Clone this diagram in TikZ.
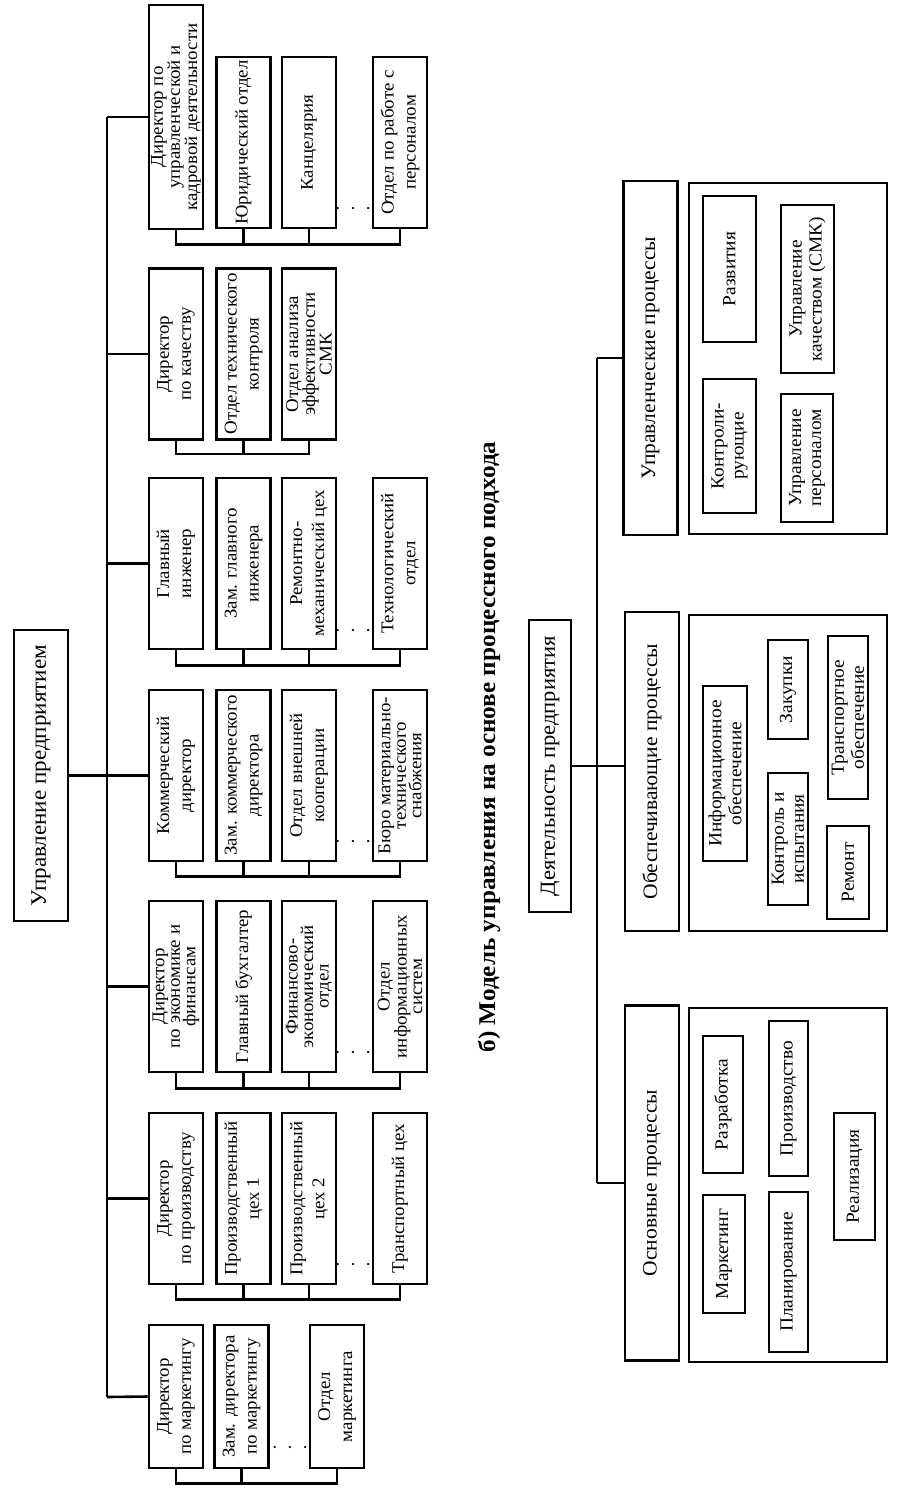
\documentclass[tikz,border=0pt]{standalone}
\usepackage{fontspec}
\setmainfont{Liberation Serif}[FakeStretch=1.05]
\usetikzlibrary{calc}

\begin{document}
\begin{tikzpicture}[
          x=1pt, y=-1pt, line width=2.6pt,
          unit/.style={draw, rotate=90, align=center, inner sep=1pt, minimum width=171pt, minimum height=54pt, font=\fontsize{18}{22}\selectfont},
          tight/.style={font=\fontsize{18}{15.5}\selectfont},
          proc/.style={draw, rotate=90, align=center, inner sep=1pt, minimum height=54pt, font=\fontsize{20.5}{22}\selectfont},
          item/.style={draw, rotate=90, align=center, inner sep=1pt, minimum height=40pt, font=\fontsize{18.5}{20}\selectfont},
          dots/.style={inner sep=0pt, font=\fontsize{18}{18}\selectfont},
          ]
          \useasboundingbox (0,0) rectangle (907,1489);

          % a) org chart
          \node[unit, minimum width=291pt, font=\fontsize{22}{22}\selectfont] (upr) at (41,775.5) {Управление предприятием};
          \coordinate (stemT) at (107,117);
          \coordinate (stemB) at (107,1397);

          \node[unit, tight, minimum width=224pt] (dupr) at (176,117) {Директор по\\управленческой и\\кадровой деятельности};
          \node[unit] (jur) at (243.5,142.5) {Юридический отдел};
          \node[unit] (kanc) at (309,142.5) {Канцелярия};
          \node[unit] (kadr) at (400,142.5) {Отдел по работе с\\персоналом};
          \node[dots] (dots1) at (353,211) {\textperiodcentered\kern9pt\textperiodcentered\kern9pt\textperiodcentered};

          \node[unit] (dkach) at (176,354) {Директор\\по качеству};
          \node[unit] (otk) at (243.5,354) {Отдел технического\\контроля};
          \node[unit, tight] (smk) at (309,354) {Отдел анализа\\эффективности\\СМК};

          \node[unit] (gi) at (176,563.5) {Главный\\инженер};
          \node[unit] (zgi) at (243.5,563.5) {Зам. главного\\инженера};
          \node[unit] (rmc) at (309,563.5) {Ремонтно-\\механический цех};
          \node[unit] (tech) at (400,563.5) {Технологический\\отдел};
          \node[dots] (dots3) at (353,633) {\textperiodcentered\kern9pt\textperiodcentered\kern9pt\textperiodcentered};

          \node[unit] (kd) at (176,775.5) {Коммерческий\\директор};
          \node[unit] (zkd) at (243.5,775.5) {Зам. коммерческого\\директора};
          \node[unit] (vk) at (309,775.5) {Отдел внешней\\кооперации};
          \node[unit, tight] (mts) at (400,775.5) {Бюро материально-\\технического\\снабжения};
          \node[dots] (dots4) at (353,844) {\textperiodcentered\kern9pt\textperiodcentered\kern9pt\textperiodcentered};

          \node[unit, tight] (dfin) at (176,986.5) {Директор\\по экономике и\\финансам};
          \node[unit] (buh) at (243.5,986.5) {Главный бухгалтер};
          \node[unit, tight] (fin) at (309,986.5) {Финансово-\\экономический\\отдел};
          \node[unit, tight] (inf) at (400,986.5) {Отдел\\информационных\\систем};
          \node[dots] (dots5) at (353,1055) {\textperiodcentered\kern9pt\textperiodcentered\kern9pt\textperiodcentered};

          \node[unit] (dpr) at (176,1198.5) {Директор\\по производству};
          \node[unit] (pc1) at (243.5,1198.5) {Производственный\\цех 1};
          \node[unit] (pc2) at (309,1198.5) {Производственный\\цех 2};
          \node[unit] (trc) at (400,1198.5) {Транспортный цех};
          \node[dots] (dots6) at (353,1267) {\textperiodcentered\kern9pt\textperiodcentered\kern9pt\textperiodcentered};

          \node[unit, minimum width=143pt] (dmk) at (176,1396.5) {Директор\\по маркетингу};
          \node[unit, minimum width=143pt] (zmk) at (241.5,1396.5) {Зам. директора\\по маркетингу};
          \node[unit, minimum width=143pt] (omk) at (337,1396.5) {Отдел\\маркетинга};
          \node[dots] (dots7) at (290,1450) {\textperiodcentered\kern9pt\textperiodcentered\kern9pt\textperiodcentered};

          \draw (stemT) -- (stemB);
          \draw (upr.south) -- (upr.south -| stemT);
          \draw (dupr.north) -- (stemT);
          \draw (dkach.north) -- (dkach.north -| stemT);
          \draw (gi.north) -- (gi.north -| stemT);
          \draw (kd.north) -- (kd.north -| stemT);
          \draw (dfin.north) -- (dfin.north -| stemT);
          \draw (dpr.north) -- (dpr.north -| stemT);
          \draw (dmk.north) -- (stemB);

          \draw (dupr.west) -- ++(0,14) -| (kadr.west);
          \draw (jur.west) -- ++(0,15);
          \draw (kanc.west) -- ++(0,15);
          \draw (dkach.west) -- ++(0,13) -| (smk.west);
          \draw (otk.west) -- ++(0,13);
          \draw (gi.west) -- ++(0,15) -| (tech.west);
          \draw (zgi.west) -- ++(0,15);
          \draw (rmc.west) -- ++(0,15);
          \draw (kd.west) -- ++(0,14) -| (mts.west);
          \draw (zkd.west) -- ++(0,14);
          \draw (vk.west) -- ++(0,14);
          \draw (dfin.west) -- ++(0,15) -| (inf.west);
          \draw (buh.west) -- ++(0,15);
          \draw (fin.west) -- ++(0,15);
          \draw (dpr.west) -- ++(0,14) -| (trc.west);
          \draw (pc1.west) -- ++(0,14);
          \draw (pc2.west) -- ++(0,14);
          \draw (dmk.west) -- ++(0,14) -| (omk.west);
          \draw (zmk.west) -- ++(0,14);

          % b) process model
          \node[rotate=90, font=\bfseries\fontsize{24}{26}\selectfont] (title) at (489,747) {б) Модель управления на основе процессного подхода};

          \node[proc, minimum width=292pt, minimum height=42pt, line width=1.6pt, font=\fontsize{21.5}{22}\selectfont] (dp) at (550,766) {Деятельность предприятия};
          \coordinate (rT) at (597,358);
          \coordinate (rB) at (597,1183);

          \node[proc, minimum width=354pt] (upp) at (650.5,358) {Управленческие процессы};
          \node[proc, minimum width=319pt] (obp) at (652,771.5) {Обеспечивающие процессы};
          \node[proc, minimum width=355pt] (osp) at (652,1183) {Основные процессы};

          \draw (rT) -- (rB);
          \draw (upp.north) -- (rT);
          \draw (osp.north) -- (rB);
          \draw[line width=1.6pt] (dp.south) -- (dp.south -| obp.north);

          \draw (689,183) rectangle (887,534);
          \draw (689,615) rectangle (887,931);
          \draw (689,1008) rectangle (887,1362);

          \node[item, minimum width=146pt, minimum height=53pt] (razv) at (729.5,269) {Развития};
          \node[item, minimum width=168pt, minimum height=53pt] (kach) at (807.5,289) {Управление\\качеством (СМК)};
          \node[item, minimum width=134pt, minimum height=53pt] (kontr) at (729.5,446) {Контроли-\\рующие};
          \node[item, minimum width=128pt, minimum height=52pt] (pers) at (807,458) {Управление\\персоналом};

          \node[item, minimum width=175pt, minimum height=44pt] (info) at (725,773.5) {Информационное\\обеспечение};
          \node[item, minimum width=99pt] (zak) at (788,689.5) {Закупки};
          \node[item, minimum width=132pt] (isp) at (788,839) {Контроль и\\испытания};
          \node[item, minimum width=163pt] (trans) at (848,717.5) {Транспортное\\обеспечение};
          \node[item, minimum width=93pt, minimum height=42pt] (rem) at (848,872.5) {Ремонт};

          \node[item, minimum width=137pt] (razr) at (723,1104.5) {Разработка};
          \node[item, minimum width=118pt, minimum height=42pt] (mark) at (724,1254) {Маркетинг};
          \node[item, minimum width=155pt, minimum height=39pt] (proizv) at (788.5,1098.5) {Производство};
          \node[item, minimum width=160pt, minimum height=39pt] (plan) at (788.5,1272) {Планирование};
          \node[item, minimum width=127pt, minimum height=41pt] (real) at (854.5,1176.5) {Реализация};

        \end{tikzpicture}
\end{document}
